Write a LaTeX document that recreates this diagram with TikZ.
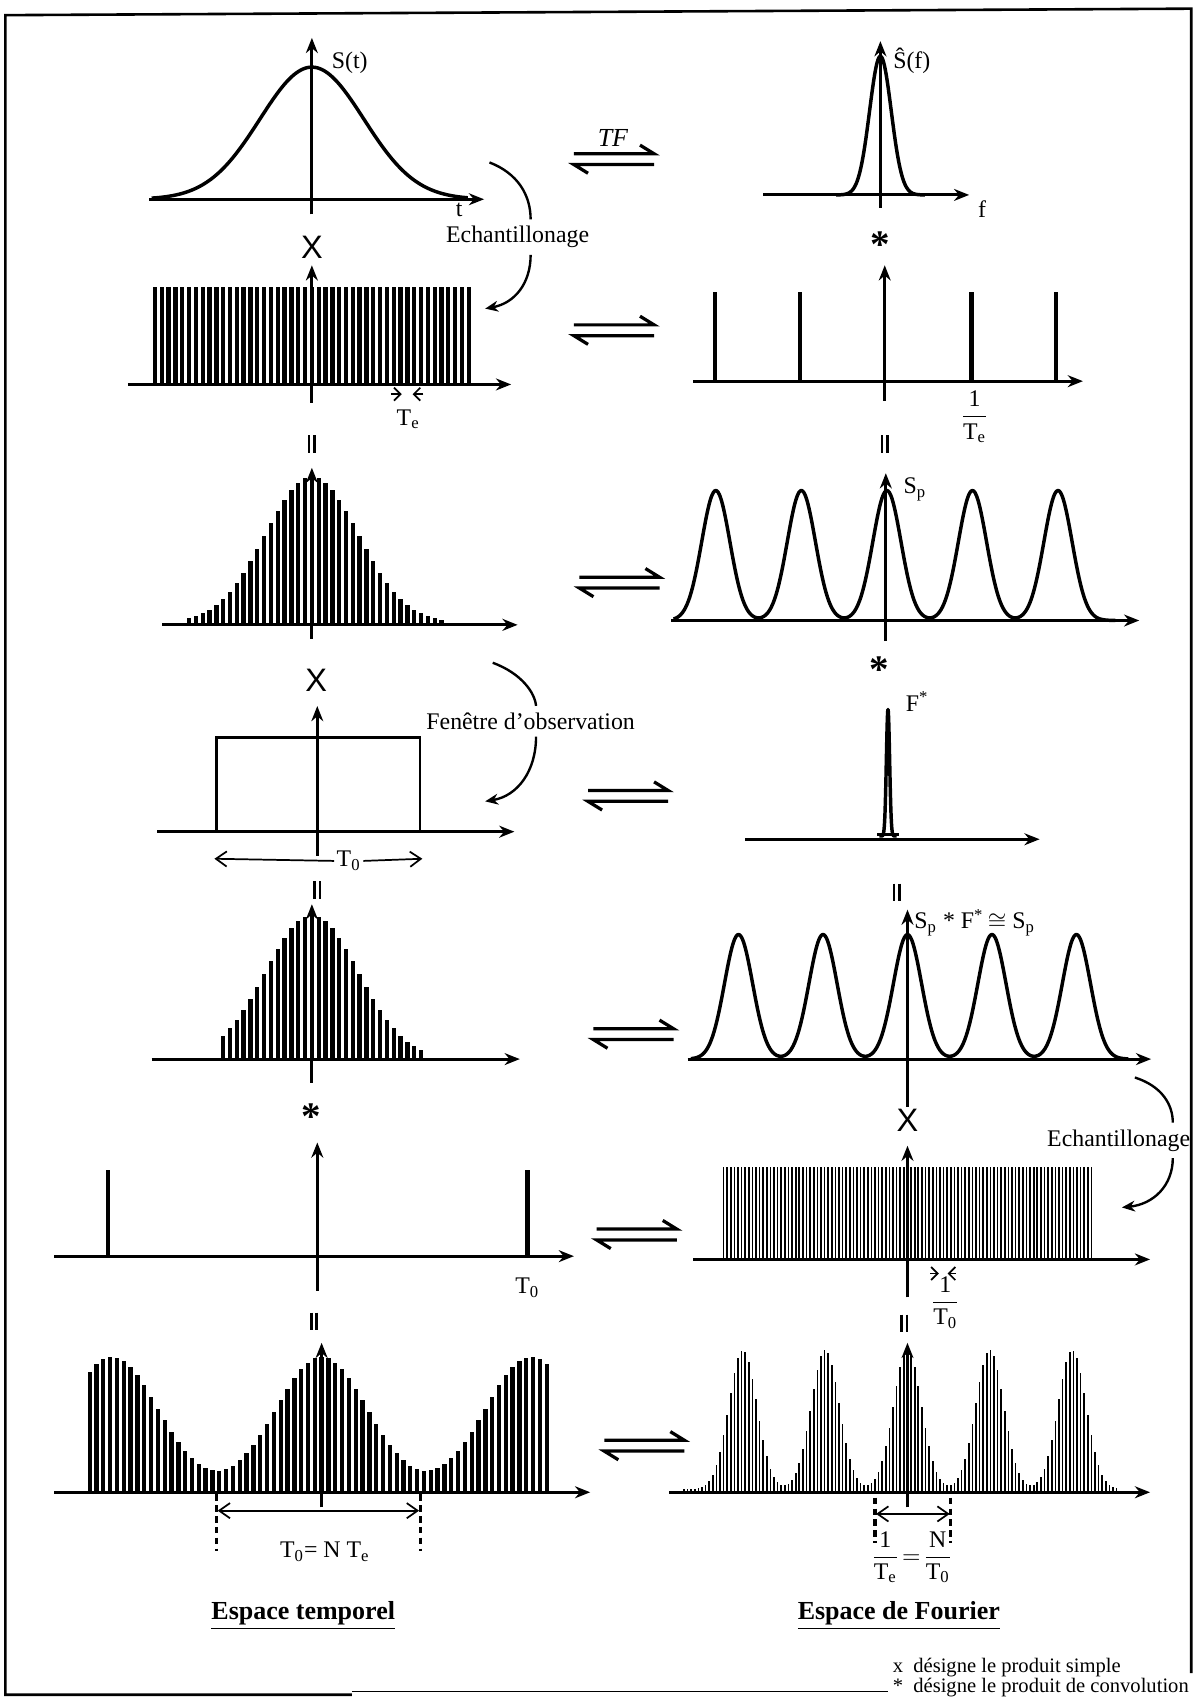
\documentclass[tikz,border=0pt]{standalone}
\usepackage{amsmath}
\usepackage{fontspec}
\setmainfont{Liberation Serif}
\setsansfont{Liberation Sans}
\usetikzlibrary{arrows.meta}

\begin{document}
\begin{tikzpicture}[
  x=0.5pt, y=-0.5pt,
  font=\fontsize{10}{12}\selectfont,
  >=Stealth,
  declare function={g(\x)=exp(-min(\x*\x/2,9));},
  axis/.style={line width=1.4pt, -{Stealth[length=7pt,width=5.5pt]}},
  curve/.style={line width=1.6pt, line join=round},
  tooth/.style={line width=2pt},
  peg/.style={line width=2pt},
  fine/.style={line width=0.75pt},
  frame/.style={line width=1.2pt},
  harpoon/.style={line width=1.5pt, line join=miter},
  hook/.style={line width=1.1pt},
  span/.style={line width=0.8pt, {Straight Barb[length=5pt,width=7pt]}-{Straight Barb[length=5pt,width=7pt]}},
  gapmark/.style={line width=0.8pt, -{Straight Barb[length=3pt,width=6pt]}},
  dots/.style={line width=1.5pt, dash pattern=on 3pt off 2pt},
  lbl/.style={inner sep=1pt, font=\fontsize{11}{13}\selectfont},
  op/.style={inner sep=1pt, font=\sffamily\fontsize{15}{17}\selectfont},
  star/.style={inner sep=1pt, font=\bfseries\fontsize{18}{20}\selectfont},
  head/.style={font=\bfseries\fontsize{12}{14}\selectfont},
  note/.style={inner sep=1pt, font=\fontsize{9.5}{11}\selectfont},
  eqarr/.pic={
    \draw[harpoon] (-37,-5) -- (37,-5) -- (24,-13);
    \draw[harpoon] (37,5) -- (-37,5) -- (-24,13);
  },
  vbars/.pic={
    \draw[line width=1.2pt] (-2.5,-8) -- (-2.5,8) (2.5,-8) -- (2.5,8);
  }
]
\useasboundingbox (0,0) rectangle (1110,1568);

% cadre
\draw[frame] (325,1565) -- (5,1565) -- (5,14) -- (1100,8) -- (1100,1545);
\draw[line width=0.7pt] (325,1562) -- (820,1562);

% ---- ligne 1 : signal et spectre
\draw[curve] plot[domain=140:432, samples=150, smooth] (\x,{184-122*g((\x-288)/48)});
\draw[axis] (138,184) -- (447,184);
\draw[axis] (288,198) -- (288,35);
\node[lbl] (st) at (323,58) {S(t)};
\node[lbl] (tlab) at (424,194) {t};

\draw[curve] plot[domain=772:854, samples=120, smooth] (\x,{180-128*g((\x-813)/10)});
\draw[axis] (705,180) -- (895,180);
\draw[axis] (813,192) -- (813,38);
\node[lbl] (sf) at (842,56) {\^S(f)};
\node[lbl] (flab) at (907,193) {f};

\node[lbl, font=\itshape\fontsize{12}{14}\selectfont] (tf) at (566,127) {TF};
\pic at (567,147) {eqarr};

\node[lbl] (ech1) at (478,219) {Echantillonage};
\coordinate (e1a) at (452,150);
\coordinate (e1b) at (448,285);
\draw[hook] (e1a) .. controls (478,160) and (490,180) .. ([xshift=6pt,yshift=2pt]ech1.north);
\draw[hook, -{Stealth[length=6pt,width=5pt]}] ([xshift=6pt,yshift=-2pt]ech1.south) .. controls (490,262) and (475,280) .. (e1b);

% ---- ligne 2 : peigne d'echantillonage
\node[op] (x1) at (288,228) {X};
\foreach \k in {-23,...,23}
  \draw[tooth] ({288+6.3*\k},355) -- ++(0,-90);
\draw[axis] (118,355) -- (472,355);
\draw[axis] (288,372) -- (288,245);
\draw[gapmark] (361,364) -- (371,364);
\draw[gapmark] (391,364) -- (381,364);
\node[lbl] (te1) at (377,387) {T\textsubscript{e}};

\node[star] (st1) at (813,226) {*};
\foreach \xx in {660,739,897,975}
  \draw[peg] (\xx,352) -- (\xx,270);
\draw[axis] (640,352) -- (1000,352);
\draw[axis] (817,370) -- (817,245);
\node[lbl] (inv1) at (900,385) {$\dfrac{\text{1}}{\text{T\textsubscript{e}}}$};
\pic at (567,305) {eqarr};

\pic at (288,410) {vbars};
\pic at (817,410) {vbars};

% ---- ligne 3 : signal echantillone
\foreach \k in {-18,...,19}{
  \pgfmathsetmacro\h{135*g(6.3*\k/43)+2}
  \draw[tooth] ({288+6.3*\k},577) -- ++(0,-\h);
}
\draw[axis] (150,577) -- (478,577);
\draw[axis] (288,590) -- (288,432);

\draw[curve] plot[domain=622:1030, samples=300, smooth]
  (\x,{573-120*(g((\x-661)/13)+g((\x-740)/13)+g((\x-819)/13)+g((\x-898)/13)+g((\x-977)/13))});
\draw[axis] (620,573) -- (1052,573);
\draw[axis] (818,592) -- (818,437);
\node[lbl] (sp1) at (845,452) {S\textsubscript{p}};
\pic at (572,538) {eqarr};

% ---- ligne 4 : fenetre d'observation
\node[op] (x2) at (292,628) {X};
\draw[line width=1.1pt] (200,768) -- (200,681) -- (388,681) -- (388,768);
\draw[axis] (145,768) -- (475,768);
\draw[axis] (293,790) -- (293,652);
\node[lbl] (t0a) at (322,795) {T\textsubscript{0}};
\coordinate (w1) at (198,793);
\coordinate (w2) at (390,793);
\draw[line width=0.8pt, -{Straight Barb[length=5pt,width=7pt]}] (t0a.west) -- (w1);
\draw[line width=0.8pt, -{Straight Barb[length=5pt,width=7pt]}] (t0a.east) -- (w2);

\node[lbl] (fen) at (490,666) {Fenêtre d'observation};
\coordinate (f1a) at (455,612);
\coordinate (f1b) at (448,740);
\draw[hook] (f1a) .. controls (482,622) and (494,640) .. ([xshift=2.5pt,yshift=2pt]fen.north);
\draw[hook, -{Stealth[length=6pt,width=5pt]}] ([xshift=2.5pt,yshift=-2pt]fen.south) .. controls (495,712) and (478,735) .. (f1b);

\node[star] (st2) at (812,618) {*};
\draw[curve] plot[domain=812:828, samples=80, smooth] (\x,{772-117*g((\x-820)/1.5)});
\draw[line width=1.4pt] (810,771) -- (830,771);
\draw[axis] (688,775) -- (960,775);
\node[lbl] (fs) at (847,648) {F\textsuperscript{*}};
\pic at (580,735) {eqarr};

\pic at (293,822) {vbars};
\pic at (828,824) {vbars};

% ---- ligne 5 : signal tronque
\foreach \k in {-13,...,16}{
  \pgfmathsetmacro\h{133*g(6.3*\k/43)}
  \draw[tooth] ({288+6.3*\k},978) -- ++(0,-\h);
}
\draw[axis] (140,978) -- (480,978);
\draw[axis] (288,1000) -- (288,835);

\draw[curve] plot[domain=638:1042, samples=300, smooth]
  (\x,{978-115*(g((\x-682)/13)+g((\x-760)/13)+g((\x-838)/13)+g((\x-916)/13)+g((\x-994)/13))});
\draw[axis] (635,978) -- (1063,978);
\draw[axis] (838,1022) -- (838,840);
\node[lbl, anchor=west] (sp2) at (842,852) {S\textsubscript{p} * F\textsuperscript{*}\kern2pt$\cong$ S\textsubscript{p}};
\pic at (585,955) {eqarr};

\node[lbl] (ech2) at (1033,1053) {Echantillonage};
\coordinate (e2a) at (1048,995);
\coordinate (e2b) at (1036,1115);
\draw[hook] (e2a) .. controls (1073,1003) and (1083,1020) .. ([xshift=25pt,yshift=2pt]ech2.north);
\draw[hook, -{Stealth[length=6pt,width=5pt]}] ([xshift=25pt,yshift=-2pt]ech2.south) .. controls (1083,1095) and (1065,1112) .. (e2b);

% ---- ligne 6 : peignes de periode T0
\node[star] (st3) at (287,1031) {*};
\draw[peg] (100,1160) -- (100,1080);
\draw[peg] (487,1160) -- (487,1080);
\draw[axis] (50,1160) -- (530,1160);
\draw[axis] (293,1192) -- (293,1055);
\node[lbl] (t0b) at (487,1189) {T\textsubscript{0}};

\node[op] (x3) at (838,1035) {X};
\foreach \k in {-51,...,51}
  \draw[fine] ({838+3.33*\k},1163) -- ++(0,-85);
\draw[axis] (640,1163) -- (1062,1163);
\draw[axis] (838,1198) -- (838,1058);
\draw[gapmark] (859,1176) -- (867,1176);
\draw[gapmark] (883,1176) -- (875,1176);
\node[lbl] (inv2) at (873,1203) {$\dfrac{\text{1}}{\text{T\textsubscript{0}}}$};
\pic at (588,1140) {eqarr};

\pic at (290,1220) {vbars};
\pic at (835,1222) {vbars};

% ---- ligne 7 : signal et spectre discrets
\foreach \k in {-34,...,33}{
  \pgfmathsetmacro\h{125*(g((6.3*\k+193.5)/43)+g(6.3*\k/43)+g((6.3*\k-193.5)/43))}
  \draw[tooth] ({297+6.3*\k},1378) -- ++(0,-\h);
}
\draw[axis] (50,1378) -- (545,1378);
\draw[axis] (297,1392) -- (297,1240);
\draw[dots] (200,1380) -- (200,1432);
\draw[dots] (388,1380) -- (388,1432);
\coordinate (p1) at (201,1395);
\coordinate (p2) at (387,1395);
\draw[span] (p1) -- (p2);
\node[lbl] (t0n) at (300,1433) {T\textsubscript{0}= N T\textsubscript{e}};

\foreach \k in {-62,...,58}{
  \pgfmathsetmacro\h{128*(g((3.33*\k+152)/13)+g((3.33*\k+76)/13)+g(3.33*\k/13)+g((3.33*\k-76)/13)+g((3.33*\k-152)/13))+3}
  \draw[fine] ({838+3.33*\k},1378) -- ++(0,-\h);
}
\draw[axis] (618,1378) -- (1062,1378);
\draw[axis] (838,1392) -- (838,1240);
\draw[dots] (808,1383) -- (808,1425);
\draw[dots] (878,1383) -- (878,1425);
\coordinate (q1) at (809,1398);
\coordinate (q2) at (877,1398);
\draw[span] (q1) -- (q2);
\node[lbl] (inv3) at (842,1438) {$\dfrac{\text{1}}{\text{T\textsubscript{e}}}\!=\!\dfrac{\text{N}}{\text{T\textsubscript{0}}}$};
\pic at (595,1335) {eqarr};

% ---- titres et legende
\node[head] (hl) at (280,1492) {\underline{Espace temporel}};
\node[head] (hr) at (830,1492) {\underline{Espace de Fourier}};
\node[note, anchor=west] (n1) at (822,1540) {x\enspace désigne le produit simple};
\node[note, anchor=west] (n2) at (822,1558) {*\enspace désigne le produit de convolution};

\end{tikzpicture}
\end{document}
